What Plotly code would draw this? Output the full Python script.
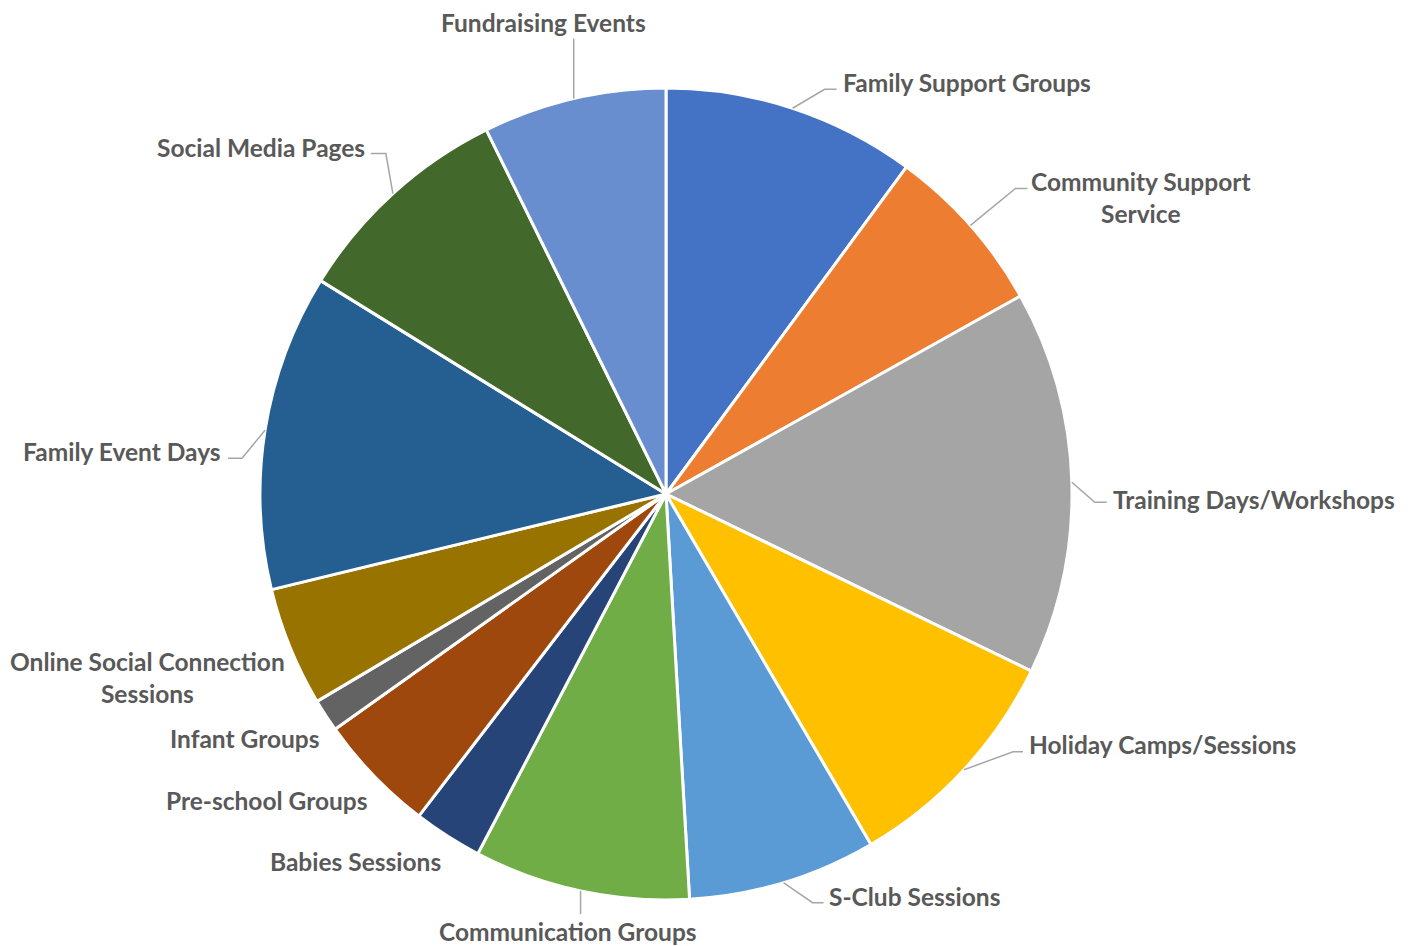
import math
import plotly.graph_objects as go

# Share of responses per activity (percent), clockwise from 12 o'clock
categories = [
    "Family Support Groups", "Community Support Service", "Training Days/Workshops",
    "Holiday Camps/Sessions", "S-Club Sessions", "Communication Groups",
    "Babies Sessions", "Pre-school Groups", "Infant Groups",
    "Online Social Connection Sessions", "Family Event Days",
    "Social Media Pages", "Fundraising Events",
]
values = [10.1, 6.8, 15.3, 9.4, 7.5, 8.6, 2.75, 4.75, 1.3, 4.75, 12.6, 8.9, 7.3]
label_text = [
    "Family Support Groups", "Community Support<br>Service", "Training Days/Workshops",
    "Holiday Camps/Sessions", "S-Club Sessions", "Communication Groups",
    "Babies Sessions", "Pre-school Groups", "Infant Groups",
    "Online Social Connection<br>Sessions", "Family Event Days",
    "Social Media Pages", "Fundraising Events",
]
colors = [
    "#4472C4", "#ED7D31", "#A5A5A5", "#FFC000", "#5B9BD5", "#70AD47",
    "#264478", "#9E480E", "#636363", "#997300", "#255E91", "#43682B", "#698ED0",
]

W, H = 1413, 946
CX, CY, R = 666, 494, 406

# Label layout: leader elbow offset from the slice edge, horizontal tail,
# then text anchor/offset from the end of the leader.
# (elbow_dx, elbow_dy, tail, xanchor, text_dx, text_dy)
label_layout = [
    (32, -19, 12, "left", 4, -7),
    (45, -37, 12, "center", 114, 9),
    (23, 20, 12, "left", 4, -3),
    (49, -18, 10, "left", 4, -7),
    (29, 20, 11, "left", 4, -6),
    (0, 23, 0, "center", -13, 18),
    (None, None, 0, "right", -4, 25),
    (None, None, 0, "right", -4, 25),
    (None, None, 0, "right", -4, 23),
    (None, None, 0, "center", -143, 30),
    (-23, 28, -14, "right", -5, -7),
    (-7, -40, -15, "right", -4, -6),
    (0, -60, 0, "center", -30, -16),
]


def px(x):
    return x / W


def py(y):
    return 1 - y / H


fig = go.Figure(
    go.Pie(
        labels=categories,
        values=values,
        sort=False,
        direction="clockwise",
        rotation=0,
        marker=dict(colors=colors, line=dict(color="white", width=3)),
        textinfo="none",
        textposition="none",
        hoverinfo="label+percent",
        showlegend=False,
        domain=dict(x=[(CX - R) / W, (CX + R) / W], y=[1 - (CY + R) / H, 1 - (CY - R) / H]),
    )
)

total = sum(values)
cum = 0.0
shapes, annotations = [], []
for name, v, (ex, ey, tail, xa, tdx, tdy), txt in zip(categories, values, label_layout, label_text):
    mid = (cum + v / 2) / total * 2 * math.pi
    cum += v
    ax = CX + R * math.sin(mid)
    ay = CY - R * math.cos(mid)
    if ex is not None:
        elx, ely = ax + ex, ay + ey
        endx = elx + tail
        path = f"M {px(ax)} {py(ay)} L {px(elx)} {py(ely)} L {px(endx)} {py(ely)}"
        shapes.append(dict(type="path", xref="paper", yref="paper", path=path,
                           line=dict(color="#A6A6A6", width=1.5)))
        tx, ty = endx + tdx, ely + tdy
    else:
        tx, ty = ax + tdx, ay + tdy
    annotations.append(dict(
        x=px(tx), y=py(ty), xref="paper", yref="paper", text=f"<b>{txt}</b>",
        showarrow=False, xanchor=xa, yanchor="middle", align="center",
        font=dict(family="Lato", size=24.5, color="#595959"),
    ))

fig.update_layout(
    width=W, height=H,
    margin=dict(l=0, r=0, t=0, b=0),
    paper_bgcolor="white", plot_bgcolor="white",
    shapes=shapes, annotations=annotations,
)

fig.write_html("out.html")
